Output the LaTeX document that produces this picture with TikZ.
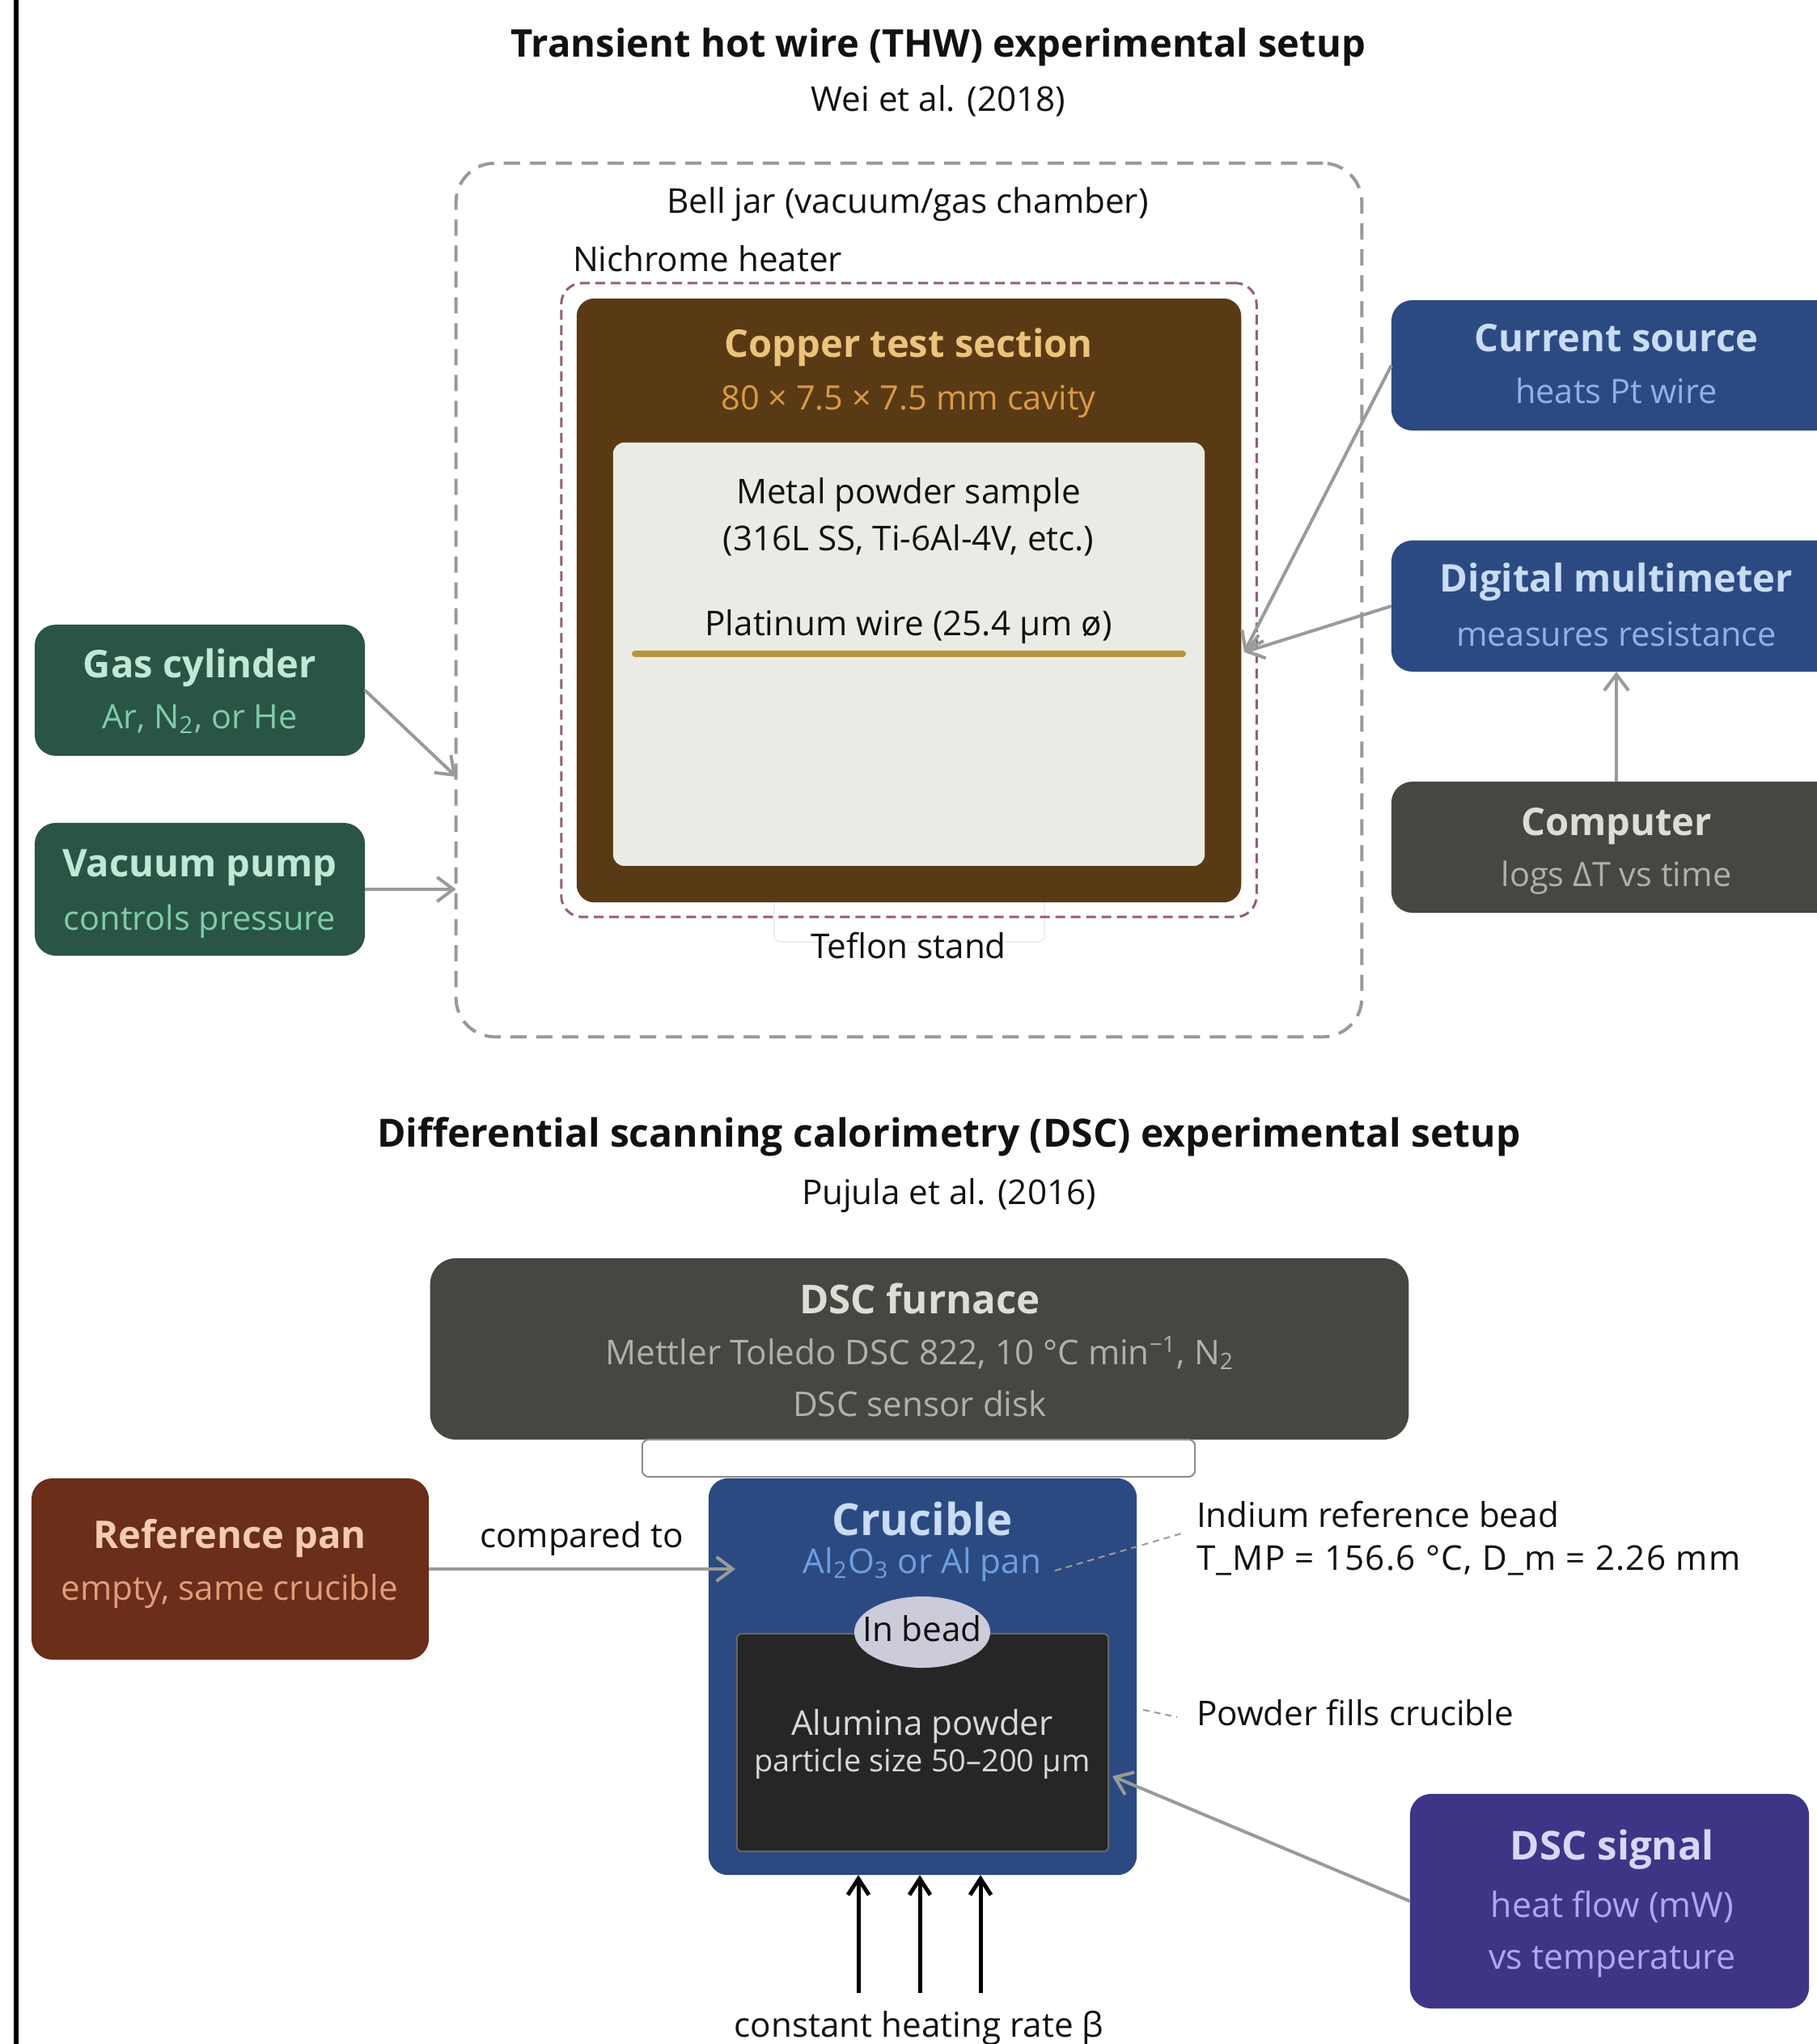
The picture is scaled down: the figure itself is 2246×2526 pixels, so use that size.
\documentclass[tikz,border=0pt]{standalone}
\usepackage{fontspec}
\setmainfont{Open Sans}
\usetikzlibrary{arrows.meta,shapes.geometric}
\definecolor{jar}{HTML}{999999}
\definecolor{nichrome}{HTML}{95606C}
\definecolor{copper}{HTML}{5A3A14}
\definecolor{coppertitle}{HTML}{EBC47C}
\definecolor{coppersub}{HTML}{D99A45}
\definecolor{sample}{HTML}{EBEBE6}
\definecolor{wire}{HTML}{B8963E}
\definecolor{bluebox}{HTML}{2C4A82}
\definecolor{bluetitle}{HTML}{C9DCF5}
\definecolor{bluesub}{HTML}{8DB2E8}
\definecolor{graybox}{HTML}{474742}
\definecolor{graytitle}{HTML}{DDDDD5}
\definecolor{graysub}{HTML}{B0B0A8}
\definecolor{greenbox}{HTML}{2A5446}
\definecolor{greentitle}{HTML}{C0E8D5}
\definecolor{greensub}{HTML}{80CCA8}
\definecolor{arrowgray}{HTML}{9A9A9A}
\definecolor{crucsub}{HTML}{6E9EE0}
\definecolor{powder}{HTML}{262626}
\definecolor{powdertext}{HTML}{D8D8D4}
\definecolor{bead}{HTML}{CBCBDA}
\definecolor{refbox}{HTML}{6A2E1A}
\definecolor{reftitle}{HTML}{F5CBB0}
\definecolor{refsub}{HTML}{E39C7A}
\definecolor{sigbox}{HTML}{3E3586}
\definecolor{sigtitle}{HTML}{DAD6F8}
\definecolor{sigsub}{HTML}{AFA8F0}
\definecolor{ink}{HTML}{111111}
\newcommand\myfs[1]{\fontsize{#1pt}{#1pt}\selectfont}
\tikzset{
  shp/.style={inner sep=0pt, outer sep=0pt},
  lbl/.style={inner sep=0pt, outer sep=0pt, anchor=mid, text=ink, font=\myfs{12}},
  headt/.style={lbl, font=\bfseries\myfs{13.4}},
  subt/.style={lbl, font=\myfs{11.8}},
  arr/.style={draw=arrowgray, line width=0.04cm, -{Straight Barb[length=0.2cm,width=0.3cm]}},
  heat/.style={draw=black, line width=0.05cm, -{Straight Barb[length=0.2cm,width=0.26cm]}},
  leader/.style={draw=arrowgray, line width=0.02cm, dash pattern=on 0.08cm off 0.06cm},
}
\begin{document}
\begin{tikzpicture}[x=0.01cm,y=-0.01cm]
\useasboundingbox (0,0) rectangle (2246,2526);
\clip (0,0) rectangle (2246,2526);
\fill[white] (0,0) rectangle (2246,2526);
\draw[line width=0.05cm] (20,0) -- (20,2526);

% ---------- THW ----------
\node[lbl, font=\bfseries\myfs{13.4}] (t1) at (1160,61) {Transient hot wire (THW) experimental setup};
\node[lbl] (s1) at (1160,128) {Wei et al. (2018)};

\node[shp, draw=jar, line width=0.04cm, dash pattern=on 0.2cm off 0.12cm, rounded corners=0.48cm,
      minimum width=11.19cm, minimum height=10.79cm] (bell) at (1123.5,741.5) {};
\node[lbl] (belllbl) at (1122,254) {Bell jar (vacuum/gas chamber)};
\node[lbl, anchor=mid west] (nichlbl) at (708,326) {Nichrome heater};

\node[shp, draw=black!8, fill=white, line width=0.015cm, rounded corners=0.08cm,
      minimum width=3.34cm, minimum height=0.6cm] (stand) at (1124,1134) {};
\node[shp, draw=nichrome, line width=0.03cm, dash pattern=on 0.12cm off 0.07cm, rounded corners=0.26cm,
      minimum width=8.59cm, minimum height=7.83cm] (nich) at (1123.5,741.5) {};
\node[shp, fill=copper, rounded corners=0.22cm,
      minimum width=8.21cm, minimum height=7.46cm] (copper) at (1123.5,742) {};
\node[headt, text=coppertitle] (coppert) at (1123,432) {Copper test section};
\node[subt, text=coppersub] (coppers) at (1123,497) {80 × 7.5 × 7.5 mm cavity};
\node[shp, fill=sample, rounded corners=0.14cm,
      minimum width=7.31cm, minimum height=5.23cm] (sample) at (1123.5,808.5) {};
\node[lbl] (samp1) at (1123,613) {Metal powder sample};
\node[lbl] (samp2) at (1123,671) {(316L SS, Ti-6Al-4V, etc.)};
\node[lbl] (ptlbl) at (1123,776) {Platinum wire (25.4 μm ø)};
\coordinate (wireL) at (785,808);
\coordinate (wireR) at (1462,808);
\draw[wire, line width=0.08cm, line cap=round] (wireL) -- (wireR);
\node[lbl] (teflon) at (1123,1175) {Teflon stand};

% right boxes
\node[shp, fill=bluebox, rounded corners=0.26cm, minimum width=5.56cm, minimum height=1.61cm] (cur) at (1998,451.5) {};
\node[headt, text=bluetitle] (curt) at (1998,425) {Current source};
\node[subt, text=bluesub] (curs) at (1998,489) {heats Pt wire};
\node[shp, fill=bluebox, rounded corners=0.26cm, minimum width=5.56cm, minimum height=1.62cm] (dmm) at (1998,749) {};
\node[headt, text=bluetitle] (dmmt) at (1998,722) {Digital multimeter};
\node[subt, text=bluesub] (dmms) at (1998,789) {measures resistance};
\node[shp, fill=graybox, rounded corners=0.26cm, minimum width=5.56cm, minimum height=1.62cm] (comp) at (1998,1047) {};
\node[headt, text=graytitle] (compt) at (1998,1023) {Computer};
\node[subt, text=graysub] (comps) at (1998,1086) {logs ΔT vs time};

% left boxes
\node[shp, fill=greenbox, rounded corners=0.26cm, minimum width=4.08cm, minimum height=1.62cm] (gas) at (247,853) {};
\node[headt, text=greentitle] (gast) at (247,828) {Gas cylinder};
\node[subt, text=greensub] (gass) at (247,891) {Ar, N\textsubscript{2}, or He};
\node[shp, fill=greenbox, rounded corners=0.26cm, minimum width=4.08cm, minimum height=1.64cm] (vac) at (247,1099) {};
\node[headt, text=greentitle] (vact) at (247,1074) {Vacuum pump};
\node[subt, text=greensub] (vacs) at (247,1140) {controls pressure};

\coordinate (hit) at (1538,806);
\coordinate (gasend) at (564,960);
\draw[arr] (cur.west) -- (hit);
\draw[arr] (dmm.west) -- (hit);
\draw[arr] (comp.north) -- (dmm.south);
\draw[arr] (gas.east) -- (gasend);
\draw[arr] (vac.east) -- (vac.east -| bell.west);

% ---------- DSC ----------
\node[lbl, font=\bfseries\myfs{13.65}] (t2) at (1173,1408) {Differential scanning calorimetry (DSC) experimental setup};
\node[lbl] (s2) at (1173,1479) {Pujula et al. (2016)};

\node[shp, fill=graybox, rounded corners=0.32cm, minimum width=12.09cm, minimum height=2.24cm] (furn) at (1136.5,1667) {};
\node[lbl, font=\bfseries\myfs{14}, text=graytitle] (furnt) at (1137,1614) {DSC furnace};
\node[subt, font=\myfs{12}, text=graysub] (furn1) at (1137,1677) {Mettler Toledo DSC 822, 10 °C min\textsuperscript{−1}, N\textsubscript{2}};
\node[subt, font=\myfs{12}, text=graysub] (furn2) at (1137,1741) {DSC sensor disk};
\node[shp, draw=black!45, fill=white, line width=0.02cm, rounded corners=0.08cm, minimum width=6.83cm, minimum height=0.46cm] (disk) at (1135.5,1802) {};

\node[shp, fill=bluebox, rounded corners=0.24cm, minimum width=5.29cm, minimum height=4.9cm] (cruc) at (1140.5,2072) {};
\node[lbl, font=\bfseries\myfs{15.5}, text=bluetitle] (cruct) at (1140,1888) {Crucible};
\node[subt, font=\myfs{12}, text=crucsub] (crucs) at (1140,1935) {Al\textsubscript{2}O\textsubscript{3} or Al pan};
\node[shp, fill=powder, draw=black!60, line width=0.02cm, rounded corners=0.06cm, minimum width=4.59cm, minimum height=2.69cm] (pow) at (1140.5,2153.5) {};
\node[shp, ellipse, fill=bead, minimum width=1.68cm, minimum height=0.88cm] (bead) at (1140,2017) {};
\node[lbl] (beadt) at (1140,2019) {In bead};
\node[lbl, text=powdertext] (powt) at (1140,2135) {Alumina powder};
\node[lbl, font=\myfs{10.8}, text=powdertext] (pows) at (1140,2180) {particle size 50–200 μm};

\node[shp, fill=refbox, rounded corners=0.26cm, minimum width=4.91cm, minimum height=2.24cm] (ref) at (284.5,1939) {};
\node[headt, text=reftitle] (reft) at (284,1904) {Reference pan};
\node[subt, font=\myfs{12}, text=refsub] (refs) at (284,1968) {empty, same crucible};
\coordinate (cmpend) at (909,1939);
\draw[arr] (ref.east) -- (cmpend);
\node[lbl] (cmplbl) at (719,1903) {compared to};

\node[lbl, anchor=mid west] (indium) at (1479,1878) {Indium reference bead};
\node[lbl, anchor=mid west] (tmp) at (1479,1931) {\addfontfeature{LetterSpace=3}T\_MP = 156.6 °C, D\_m = 2.26 mm};
\coordinate (ldA) at (1304,1941);
\coordinate (ldB) at (1464,1894);
\draw[leader] (ldA) -- (ldB);
\node[lbl, anchor=mid west] (fills) at (1479,2123) {Powder fills crucible};
\coordinate (lfA) at (1413,2113);
\coordinate (lfB) at (1455,2122);
\draw[leader] (lfA) -- (lfB);

\node[shp, fill=sigbox, rounded corners=0.26cm, minimum width=4.93cm, minimum height=2.65cm] (sig) at (1989.5,2349.5) {};
\node[lbl, font=\bfseries\myfs{14}, text=sigtitle] (sigt) at (1993,2289) {DSC signal};
\node[subt, font=\myfs{12.2}, text=sigsub] (sigs1) at (1993,2360) {heat flow (mW)};
\node[subt, font=\myfs{12.2}, text=sigsub] (sigs2) at (1993,2424) {vs temperature};
\coordinate (sigend) at (1375,2195);
\draw[arr] (sig.west) -- (sigend);

\coordinate (h1) at (1061,2463);
\coordinate (h2) at (1137,2463);
\coordinate (h3) at (1212,2463);
\draw[heat] (h1) -- (h1 |- cruc.south);
\draw[heat] (h2) -- (h2 |- cruc.south);
\draw[heat] (h3) -- (h3 |- cruc.south);
\node[lbl] (heatlbl) at (1136,2508) {constant heating rate β};
\end{tikzpicture}
\end{document}
